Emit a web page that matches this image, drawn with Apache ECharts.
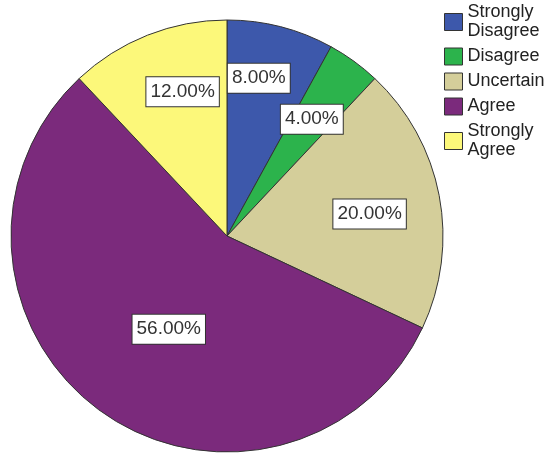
<!DOCTYPE html>
<html>
<head>
<meta charset="utf-8">
<script src="https://cdn.jsdelivr.net/npm/echarts@6/dist/echarts.min.js"></script>
<style>html,body{margin:0;padding:0;background:#fff;}#c{width:553px;height:454px;}</style>
</head>
<body>
<div id="c"></div>
<script>
var categories = ['Strongly\nDisagree', 'Disagree', 'Uncertain', 'Agree', 'Strongly\nAgree'];
var values = [8, 4, 20, 56, 12];
var colors = ['#3D58AB', '#2CB34C', '#D4CE9A', '#7B2A7C', '#FCF87A'];

// label placement tweaks (radial factor, angular offset in degrees)
var labelSpread = [1.45, 1.3, 1.3, 0.99, 1.36];
var labelTurn = [-3, 0, 2, -4, 4.5];

var CX = 227, CY = 236;
var chart = echarts.init(document.getElementById('c'));
chart.setOption({
  animation: false,
  color: colors,
  legend: {
    orient: 'vertical',
    left: 444,
    top: 3,
    padding: 0,
    itemWidth: 18,
    itemHeight: 17,
    itemGap: 6,
    icon: 'rect',
    itemStyle: { borderColor: '#333', borderWidth: 1 },
    textStyle: { fontFamily: 'Liberation Sans, Arial', fontSize: 18, color: '#222', lineHeight: 19 },
    data: categories
  },
  series: [{
    type: 'pie',
    center: [CX, CY],
    radius: 216,
    startAngle: 90,
    clockwise: true,
    itemStyle: { borderColor: '#333', borderWidth: 1 },
    label: {
      position: 'inside',
      fontFamily: 'Liberation Sans, Arial',
      fontSize: 19,
      lineHeight: 22,
      color: '#333',
      backgroundColor: '#fff',
      borderColor: '#333',
      borderWidth: 1,
      padding: [4, 4, 3, 4],
      formatter: function (p) { return p.value.toFixed(2) + '%'; }
    },
    labelLayout: function (p) {
      var r = p.labelRect;
      var x = r.x + r.width / 2, y = r.y + r.height / 2;
      var vx = x - CX, vy = y - CY;
      var d = Math.sqrt(vx * vx + vy * vy) * labelSpread[p.dataIndex];
      var a = Math.atan2(vx, -vy) + labelTurn[p.dataIndex] * Math.PI / 180;
      var nx = CX + d * Math.sin(a), ny = CY - d * Math.cos(a);
      return { dx: nx - x, dy: ny - y };
    },
    labelLine: { show: false },
    emphasis: { disabled: true },
    data: categories.map(function (c, i) { return { name: c, value: values[i] }; })
  }]
});
</script>
</body>
</html>
